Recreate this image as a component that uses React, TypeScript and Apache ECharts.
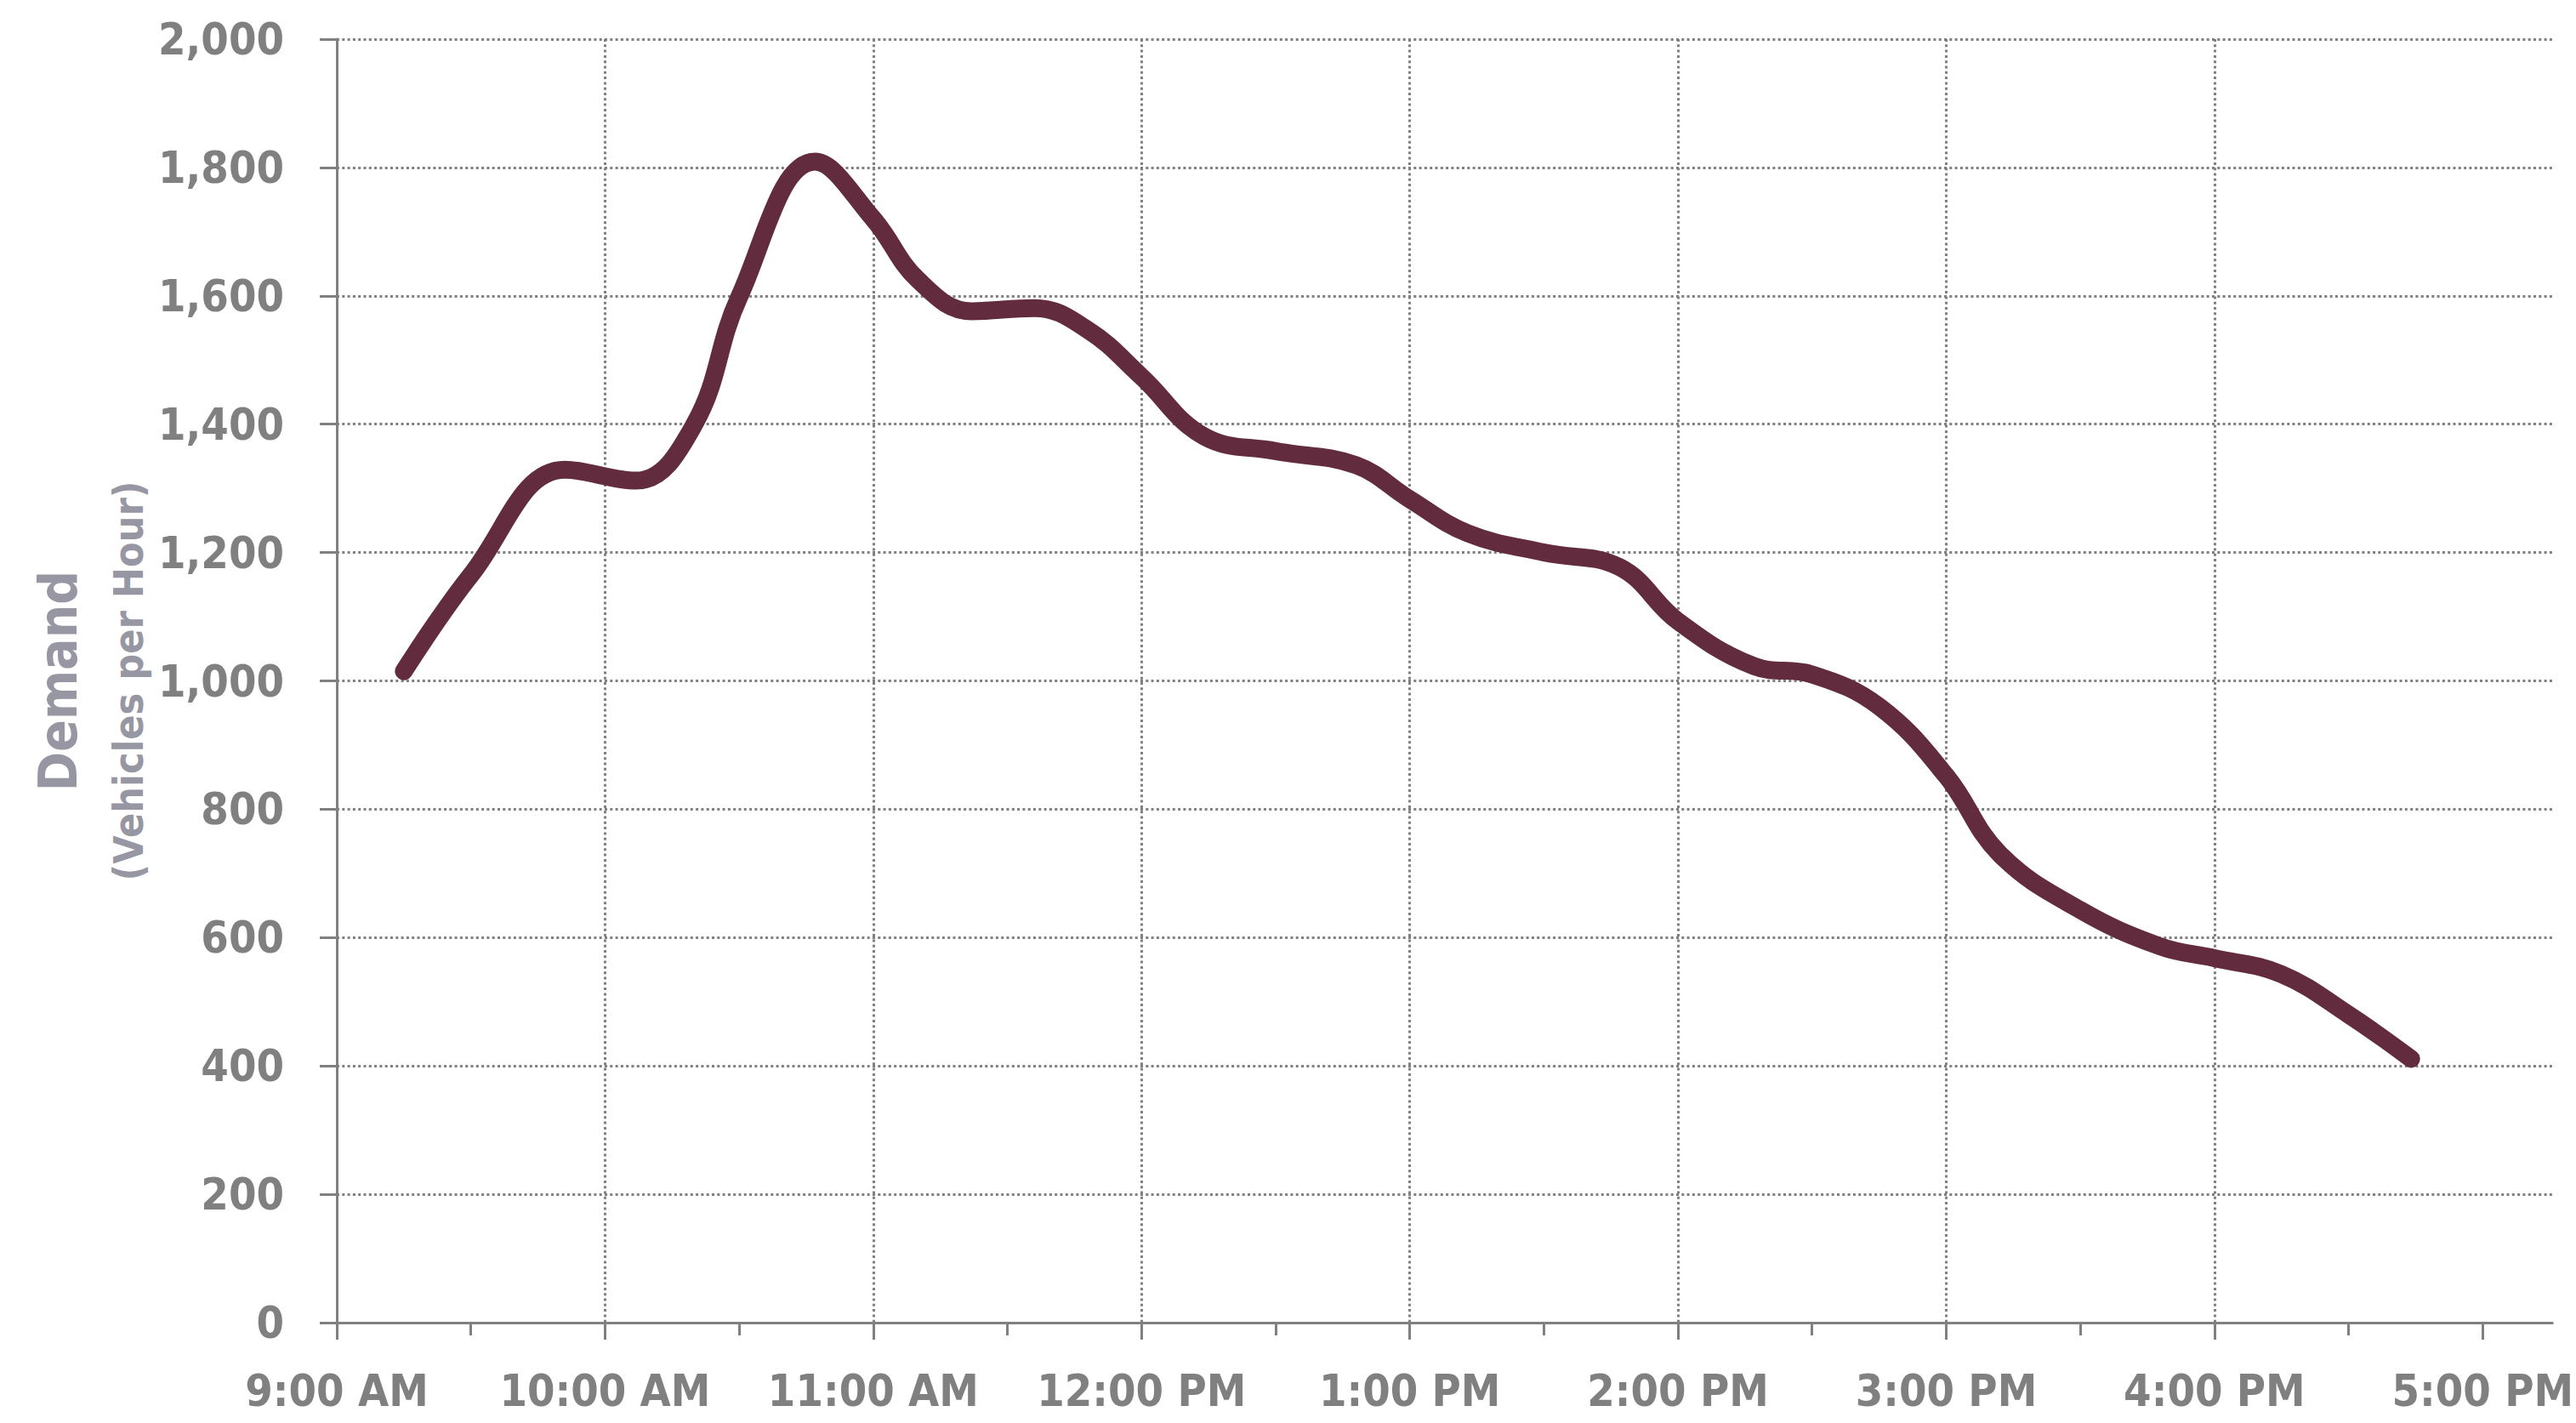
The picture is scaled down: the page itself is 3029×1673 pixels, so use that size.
import React, { useEffect, useRef } from 'react';
import * as echarts from 'echarts';

// Time of day (24h clock) of each point
const times = [
  '9:15', '9:30', '9:51', '10:07', '10:20', '10:30', '10:47', '11:00',
  '11:10', '11:22', '11:36', '11:48', '12:00', '12:14', '12:30', '12:48',
  '13:00', '13:13', '13:30', '13:47', '14:00', '14:17', '14:30', '14:45',
  '15:00', '15:12', '15:30', '15:48', '16:00', '16:15', '16:30', '16:44',
];

// Demand, vehicles per hour
const demand = [
  1015, 1165, 1329, 1312, 1400, 1598, 1809, 1720,
  1625, 1576, 1581, 1547, 1474, 1381, 1358, 1336,
  1283, 1230, 1200, 1177, 1093, 1023, 1010, 960,
  852, 730, 643, 586, 568, 543, 480, 411,
];

const hourTicks = [9, 10, 11, 12, 13, 14, 15, 16, 17];
const hourLabels = [
  '9:00 AM', '10:00 AM', '11:00 AM', '12:00 PM', '1:00 PM',
  '2:00 PM', '3:00 PM', '4:00 PM', '5:00 PM',
];
const halfHourTicks = [9.5, 10.5, 11.5, 12.5, 13.5, 14.5, 15.5, 16.5];

const yTicks = [0, 200, 400, 600, 800, 1000, 1200, 1400, 1600, 1800, 2000];

const toHours = (t: string) => {
  const [h, m] = t.split(':').map(Number);
  return h + m / 60;
};

const FONT = "'DejaVu Sans Condensed', 'DejaVu Sans', sans-serif";
const GRAY = '#808080';
const NAME_COLOR = '#9797a4';
const LINE_COLOR = '#632b3e';

export default function App() {
  const ref = useRef<HTMLDivElement>(null);

  useEffect(() => {
    if (!ref.current) return;
    const chart = echarts.init(ref.current, undefined, { renderer: 'svg' });
    const data = times.map((t, i) => [toHours(t), demand[i]]);

    chart.setOption({
      animation: false,
      backgroundColor: '#ffffff',
      grid: { left: 396, top: 46, right: 16, bottom: 118, containLabel: false },
      xAxis: [
        {
          type: 'value',
          position: 'bottom',
          min: 9,
          max: 17.26,
          interval: 0.5,
          axisLine: { show: true, onZero: false, lineStyle: { color: GRAY, width: 3 } },
          axisTick: {
            show: true,
            customValues: hourTicks,
            length: 20,
            lineStyle: { color: GRAY, width: 3 },
          },
          axisLabel: {
            show: true,
            customValues: hourTicks,
            formatter: (v: number) => {
              const i = hourTicks.indexOf(v);
              return i >= 0 ? hourLabels[i] : '';
            },
            color: GRAY,
            fontFamily: FONT,
            fontWeight: 'bold',
            fontSize: 52,
            margin: 54,
          },
          splitLine: {
            show: true,
            showMinLine: false,
            showMaxLine: false,
            lineStyle: { color: GRAY, width: 3, type: [3, 3.3] },
          },
        },
        {
          type: 'value',
          position: 'bottom',
          min: 9,
          max: 17.26,
          interval: 0.5,
          axisLine: { show: false, onZero: false },
          axisTick: {
            show: true,
            customValues: halfHourTicks,
            length: 15,
            lineStyle: { color: GRAY, width: 3 },
          },
          axisLabel: { show: false },
          splitLine: { show: false },
        },
      ],
      yAxis: {
        type: 'value',
        min: 0,
        max: 2000,
        interval: 200,
        axisLine: { show: true, lineStyle: { color: GRAY, width: 3 } },
        axisTick: { show: true, length: 20, lineStyle: { color: GRAY, width: 3 } },
        axisLabel: {
          color: GRAY,
          fontFamily: FONT,
          fontWeight: 'bold',
          fontSize: 52,
          margin: 62,
          formatter: (v: number) => (yTicks.includes(v) ? v.toLocaleString('en-US') : ''),
        },
        splitLine: {
          show: true,
          showMinLine: false,
          lineStyle: { color: GRAY, width: 3, type: [3, 3.3] },
        },
        name: '{a|Demand}\n{b|(Vehicles per Hour)}',
        nameLocation: 'middle',
        nameRotate: 90,
        nameGap: 177,
        nameTextStyle: {
          fontFamily: FONT,
          color: NAME_COLOR,
          rich: {
            a: { fontFamily: FONT, fontWeight: 'bold', fontSize: 62, color: NAME_COLOR, lineHeight: 83 },
            b: { fontFamily: FONT, fontWeight: 'bold', fontSize: 48, color: NAME_COLOR, lineHeight: 83 },
          },
        },
      },
      series: [
        {
          type: 'line',
          xAxisIndex: 0,
          data,
          smooth: 0.4,
          showSymbol: false,
          symbol: 'none',
          lineStyle: { color: LINE_COLOR, width: 21, cap: 'round', join: 'round' },
          z: 5,
        },
      ],
    });

    return () => chart.dispose();
  }, []);

  return (
    <div
      ref={ref}
      style={{ position: 'absolute', left: 0, top: 0, width: 3029, height: 1673 }}
    />
  );
}
